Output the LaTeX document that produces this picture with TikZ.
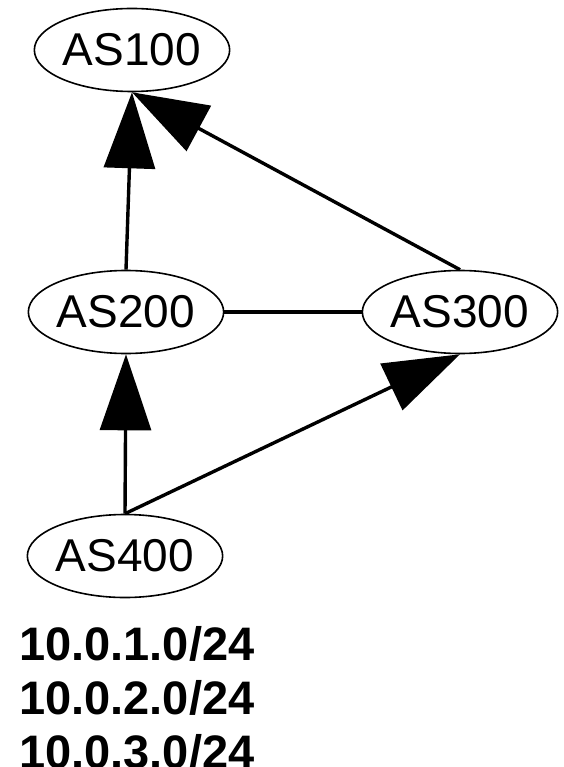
\documentclass[tikz,border=0pt]{standalone}
\usepackage{fontspec}
\setmainfont{Liberation Sans}
\usetikzlibrary{arrows.meta, shapes.geometric}

\begin{document}
\begin{tikzpicture}[x=1pt, y=-1pt,
    as/.style={draw, ellipse, line width=1.6pt, inner sep=0pt,
               minimum width=194pt, minimum height=83pt,
               font=\fontsize{46}{52}\selectfont},
    link/.style={line width=3.4pt},
    route/.style={line width=3.4pt, -{Triangle[length=76pt, width=51pt]}}]
\useasboundingbox (0,0) rectangle (563,767);

\node [as] (AS100) at (132,50) {AS100};

\node [as] (AS200) at (126,312) {AS200};
\node [as] (AS300) at (460,312) {AS300};

\node [as] (AS400) at (125,556) {AS400};

\node [align=left, anchor=north west, inner sep=0pt,
       font=\bfseries\fontsize{47}{54}\selectfont] (nets) at (19,626)
      {10.0.1.0/24\\10.0.2.0/24\\10.0.3.0/24};

\foreach \s/\t in {AS200/AS100,
                   AS300/AS100,
                   AS400/AS200,
                   AS400/AS300}
    \draw [route] (\s.north) -- (\t.south);

\draw [link] (AS200) -- (AS300);
\end{tikzpicture}
\end{document}
